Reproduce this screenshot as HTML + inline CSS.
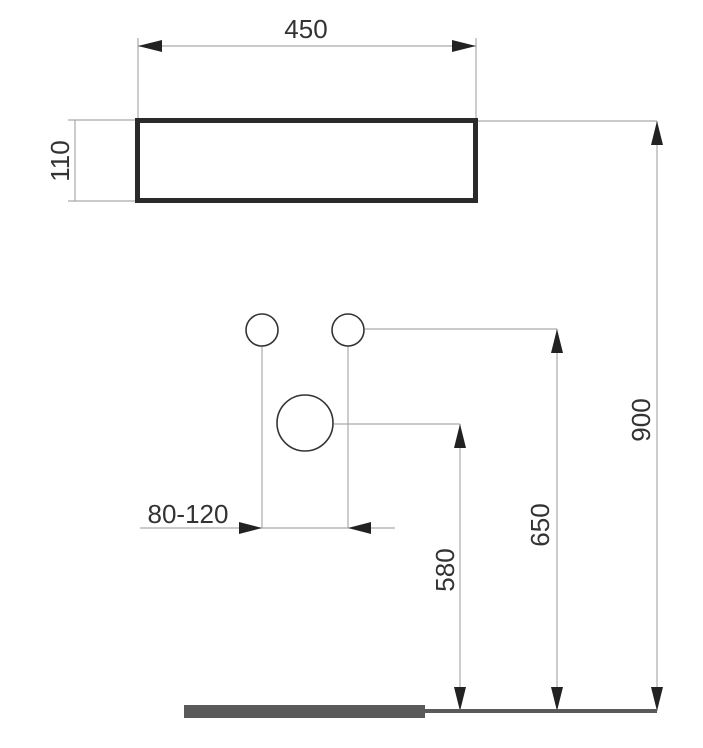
<!DOCTYPE html>
<html><head><style>body{margin:0;background:#fff}svg{display:block}</style></head><body>
<svg width="703" height="748" viewBox="0 0 703 748" xmlns="http://www.w3.org/2000/svg" font-family="Liberation Sans, sans-serif" fill="none">
<g stroke="#aaa" stroke-width="1.2">
<line x1="138" y1="38" x2="138" y2="118"/><line x1="476" y1="38" x2="476" y2="118"/>
<line x1="138" y1="46" x2="476" y2="46"/>
<line x1="68" y1="120" x2="136" y2="120"/><line x1="68" y1="201" x2="136" y2="201"/>
<line x1="75" y1="120" x2="75" y2="201"/>
<line x1="478" y1="121" x2="657" y2="121"/><line x1="657" y1="121" x2="657" y2="711"/>
<line x1="365" y1="329" x2="557" y2="329"/><line x1="557" y1="329" x2="557" y2="711"/>
<line x1="334" y1="424" x2="460" y2="424"/><line x1="460" y1="424" x2="460" y2="711"/>
<line x1="262" y1="346" x2="262" y2="528"/><line x1="348" y1="346" x2="348" y2="528"/>
<line x1="140" y1="528" x2="395" y2="528"/>
</g>
<g fill="#222">
<polygon points="138,46 162,40 162,52"/><polygon points="476,46 452,40 452,52"/>
<polygon points="657,121 651,145 663,145"/><polygon points="657,711 651,687 663,687"/>
<polygon points="557,329 551,353 563,353"/><polygon points="557,711 551,687 563,687"/>
<polygon points="460,424 454,448 466,448"/><polygon points="460,711 454,687 466,687"/>
<polygon points="262,528 239,522 239,534"/><polygon points="348,528 371,522 371,534"/>
</g>
<rect x="137.5" y="120.5" width="338" height="80" stroke="#2a2a2a" stroke-width="5"/>
<circle cx="262" cy="330" r="16" stroke="#333" stroke-width="1.6"/>
<circle cx="348" cy="330" r="16" stroke="#333" stroke-width="1.6"/>
<circle cx="305" cy="423" r="28" stroke="#333" stroke-width="1.6"/>
<rect x="184" y="705" width="241" height="13" fill="#5a5a5a"/>
<rect x="425" y="709" width="232" height="4" fill="#5a5a5a"/>
<g fill="#333" font-size="26">
<text x="306" y="38" text-anchor="middle">450</text>
<text x="188" y="523" text-anchor="middle">80-120</text>
<text transform="translate(69,161) rotate(-90)" text-anchor="middle">110</text>
<text transform="translate(650,420) rotate(-90)" text-anchor="middle">900</text>
<text transform="translate(549,525) rotate(-90)" text-anchor="middle">650</text>
<text transform="translate(454,570) rotate(-90)" text-anchor="middle">580</text>
</g>
</svg>
</body></html>
